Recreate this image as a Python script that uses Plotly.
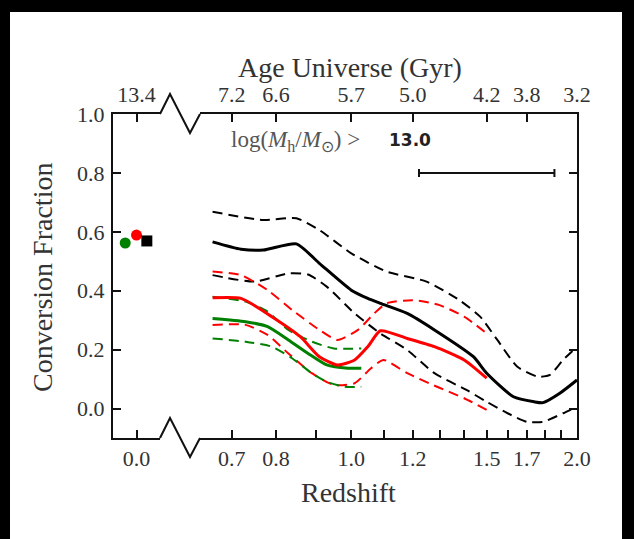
import plotly.graph_objects as go

# ---- data: conversion fraction vs redshift (median and 1-sigma bounds) ----
z_black = [0.66, 0.72, 0.77, 0.85, 0.91, 1.00, 1.05, 1.09, 1.18, 1.28, 1.44, 1.50, 1.63, 1.74, 1.79, 1.89, 2.00]
f_black = [0.566, 0.541, 0.538, 0.559, 0.493, 0.402, 0.374, 0.357, 0.323, 0.267, 0.176, 0.120, 0.040, 0.023, 0.020, 0.052, 0.097]
z_black_hi = [0.66, 0.77, 0.85, 0.91, 1.00, 1.11, 1.25, 1.38, 1.47, 1.55, 1.65, 1.76, 1.83, 1.91, 2.00]
f_black_hi = [0.668, 0.640, 0.646, 0.606, 0.527, 0.465, 0.431, 0.368, 0.312, 0.233, 0.142, 0.108, 0.114, 0.165, 0.210]
z_black_lo = [0.66, 0.75, 0.83, 0.88, 0.93, 1.01, 1.09, 1.18, 1.28, 1.41, 1.50, 1.60, 1.70, 1.79, 1.91, 2.00]
f_black_lo = [0.453, 0.431, 0.459, 0.455, 0.414, 0.323, 0.255, 0.199, 0.120, 0.063, 0.023, -0.016, -0.045, -0.045, -0.016, 0.006]

z_red = [0.66, 0.72, 0.79, 0.86, 0.91, 0.96, 1.01, 1.05, 1.09, 1.18, 1.28, 1.40, 1.50]
f_red = [0.376, 0.374, 0.312, 0.244, 0.176, 0.148, 0.165, 0.210, 0.264, 0.238, 0.210, 0.165, 0.103]
z_red_hi = [0.66, 0.72, 0.78, 0.84, 0.91, 0.96, 1.02, 1.07, 1.11, 1.20, 1.30, 1.40, 1.50]
f_red_hi = [0.465, 0.453, 0.402, 0.334, 0.267, 0.233, 0.267, 0.323, 0.357, 0.368, 0.351, 0.312, 0.255]
z_red_lo = [0.66, 0.73, 0.78, 0.83, 0.89, 0.95, 1.01, 1.06, 1.10, 1.18, 1.29, 1.40, 1.50]
f_red_lo = [0.284, 0.284, 0.250, 0.187, 0.120, 0.080, 0.086, 0.137, 0.165, 0.120, 0.074, 0.035, -0.005]

z_green = [0.66, 0.73, 0.78, 0.83, 0.88, 0.93, 0.99, 1.03]
f_green = [0.306, 0.295, 0.278, 0.233, 0.187, 0.148, 0.137, 0.137]
z_green_hi = [0.66, 0.73, 0.78, 0.83, 0.89, 0.95, 1.03]
f_green_hi = [0.380, 0.363, 0.329, 0.267, 0.227, 0.204, 0.204]
z_green_lo = [0.66, 0.73, 0.79, 0.84, 0.89, 0.93, 0.98, 1.03]
f_green_lo = [0.238, 0.227, 0.210, 0.170, 0.120, 0.091, 0.074, 0.074]

# local (z = 0) values
z_local = [0.0, 0.0, 0.0]
f_local = [0.562, 0.589, 0.569]
local_colors = ["#008000", "#ff0000", "#000000"]
local_symbols = ["circle", "circle", "square"]
local_dodge = [-0.024, 0.0, 0.022]

# representative bin width
z_bar = [1.5]
f_bar = [0.8]
bar_half_width_a = 0.05

# axis ticks
z_ticks_minor = [0.7, 0.8, 0.9, 1.0, 1.1, 1.2, 1.3, 1.4, 1.5, 1.6, 1.7, 1.8, 1.9, 2.0]
z_ticks_major = [0.7, 0.8, 1.0, 1.2, 1.5, 1.7, 2.0]
z_labels = ["0.7", "0.8", "1.0", "1.2", "1.5", "1.7", "2.0"]
age_labels = ["7.2", "6.6", "5.7", "5.0", "4.2", "3.8", "3.2"]
age_local = "13.4"
y_ticks = [0.0, 0.2, 0.4, 0.6, 0.8, 1.0]


def scale_factor(zs):
    return [1.0 / (1.0 + z) for z in zs]


W, H = 634, 539
ML, MR, MT, MB = 113, 57, 114, 101
PW, PH = W - ML - MR, H - MT - MB


def px(x):
    return (x - ML) / PW


def py(y):
    return (H - MB - y) / PH


left_end = px(160)
right_start = px(200)
a_left = 0.6117
a_right = 1.0 / 3.0
z_range_local = [-0.05, 0.05]

SERIF = "Liberation Serif"
TXT = "#333333"
tick_font = dict(family=SERIF, size=22, color=TXT)

fig = go.Figure()


def add_curve(zs, fs, color, dashed):
    fig.add_trace(go.Scatter(
        x=scale_factor(zs), y=fs, mode="lines",
        xaxis="x2", yaxis="y",
        line=dict(color=color, width=2 if dashed else 3,
                  dash="10px,6px" if dashed else "solid",
                  shape="spline", smoothing=0.6),
        showlegend=False, hoverinfo="skip"))


for zs, fs, col, d in [
    (z_black_hi, f_black_hi, "#000000", True),
    (z_black_lo, f_black_lo, "#000000", True),
    (z_red_hi, f_red_hi, "#ff0000", True),
    (z_red_lo, f_red_lo, "#ff0000", True),
    (z_green_hi, f_green_hi, "#008000", True),
    (z_green_lo, f_green_lo, "#008000", True),
    (z_green, f_green, "#008000", False),
    (z_red, f_red, "#ff0000", False),
    (z_black, f_black, "#000000", False),
]:
    add_curve(zs, fs, col, d)

# z = 0 points
for z, f, c, s, dz in zip(z_local, f_local, local_colors, local_symbols, local_dodge):
    fig.add_trace(go.Scatter(
        x=[z + dz], y=[f], mode="markers", xaxis="x", yaxis="y",
        marker=dict(color=c, symbol=s, size=11, line=dict(width=0)),
        showlegend=False, hoverinfo="skip"))

# bin-width bar
fig.add_trace(go.Scatter(
    x=scale_factor(z_bar), y=f_bar, mode="markers", xaxis="x2", yaxis="y",
    marker=dict(size=1, color="rgba(0,0,0,0)"),
    error_x=dict(type="constant", value=bar_half_width_a, color="#111111",
                 thickness=2, width=4),
    showlegend=False, hoverinfo="skip"))

# empty traces so the top (age) axes and the right axis get drawn
for xa, ya in [("x3", "y"), ("x4", "y"), ("x2", "y2")]:
    fig.add_trace(go.Scatter(x=[None], y=[None], xaxis=xa, yaxis=ya,
                             mode="markers", showlegend=False, hoverinfo="skip"))

tick_style = dict(showgrid=False, zeroline=False, ticks="inside",
                  ticklen=8, tickwidth=2, tickcolor="#111111", tickfont=tick_font)
line_style = dict(linecolor="#111111", linewidth=2)

fig.update_layout(
    width=W, height=H,
    margin=dict(l=ML, r=MR, t=MT, b=MB, pad=0),
    paper_bgcolor="white", plot_bgcolor="white",
    xaxis=dict(domain=[0, left_end], range=z_range_local, anchor="y",
               showline=True, mirror=True, tickmode="array",
               tickvals=[0.0], ticktext=["0.0"], **tick_style, **line_style),
    xaxis3=dict(overlaying="x", side="top", anchor="y", range=z_range_local,
                showline=False, tickmode="array", tickvals=[0.0],
                ticktext=[age_local], ticklabelstandoff=7, **tick_style),
    xaxis2=dict(domain=[right_start, 1], range=[a_left, a_right], anchor="y",
                showline=True, mirror=True, tickmode="array",
                tickvals=scale_factor(z_ticks_minor),
                ticktext=[z_labels[z_ticks_major.index(z)] if z in z_ticks_major else ""
                          for z in z_ticks_minor],
                **tick_style, **line_style),
    xaxis4=dict(overlaying="x2", side="top", anchor="y", range=[a_left, a_right],
                showline=False, tickmode="array",
                tickvals=scale_factor(z_ticks_major), ticktext=age_labels,
                ticklabelstandoff=7, **tick_style),
    yaxis=dict(domain=[0, 1], range=[-0.1, 1.0], anchor="x", side="left",
               showline=True, mirror=False, tickmode="array",
               tickvals=y_ticks, ticktext=[f"{v:.1f}" for v in y_ticks],
               ticklabelstandoff=2, **tick_style, **line_style),
    yaxis2=dict(overlaying="y", anchor="x2", side="right", range=[-0.1, 1.0],
                showline=True, tickmode="array", tickvals=y_ticks,
                showticklabels=False, **tick_style, **line_style),
)

# axis titles and label
fig.add_annotation(text="Age Universe (Gyr)", xref="paper", yref="paper",
                   x=px(350), y=py(67), showarrow=False, xanchor="center",
                   yanchor="middle", font=dict(family=SERIF, size=28, color=TXT))
fig.add_annotation(text="Redshift", xref="paper", yref="paper",
                   x=px(348), y=py(492), showarrow=False, xanchor="center",
                   yanchor="middle", font=dict(family=SERIF, size=28, color=TXT))
fig.add_annotation(text="Conversion Fraction", xref="paper", yref="paper",
                   x=px(42), y=py(278), showarrow=False, textangle=-90,
                   xanchor="center", yanchor="middle",
                   font=dict(family=SERIF, size=28, color=TXT))
fig.add_annotation(text="log(<i>M</i><sub>h</sub>/<i>M</i><sub>⊙</sub>) &gt;",
                   xref="paper", yref="paper", x=px(229), y=py(141),
                   showarrow=False, xanchor="left", yanchor="middle",
                   font=dict(family=SERIF, size=23, color="#555555"))
fig.add_annotation(text="<b>13.0</b>", xref="paper", yref="paper",
                   x=px(387), y=py(140), showarrow=False, xanchor="left",
                   yanchor="middle", font=dict(family="DejaVu Sans", size=17, color="#222222"))

# broken-axis zigzags
shapes = []
for ybase in (114, 438):
    pts = [(160, ybase), (170, ybase - 20), (190, ybase + 19), (200, ybase)]
    path = "M " + " L ".join(f"{px(a)},{py(b)}" for a, b in pts)
    shapes.append(dict(type="path", path=path, xref="paper", yref="paper",
                       line=dict(color="#111111", width=2)))

# dark frame around the page
for x0, y0, x1, y1 in [(0, 0, 10, H), (0, 0, W, 12), (622, 0, W, H)]:
    shapes.append(dict(type="rect", xref="paper", yref="paper",
                       x0=px(x0), x1=px(x1), y0=py(y1), y1=py(y0),
                       fillcolor="black", line=dict(width=0), layer="below"))
fig.update_layout(shapes=shapes)

fig.write_html("out.html")
